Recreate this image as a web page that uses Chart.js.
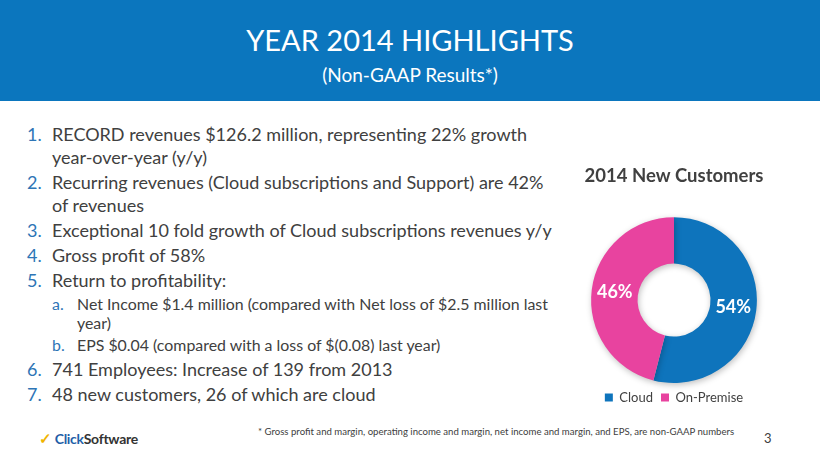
<!DOCTYPE html>
<html>
<head>
<meta charset="utf-8">
<script src="https://cdn.jsdelivr.net/npm/chart.js@4.4.1/dist/chart.umd.min.js"></script>
<style>
  html, body { margin: 0; padding: 0; background: #fff; }
  #slide { position: relative; width: 820px; height: 461px; overflow: hidden; font-family: Lato, "Open Sans", sans-serif; color: #404040; }
  #header { position: absolute; left: 0; top: 0; width: 820px; height: 101px; background: #0b76be; color: #fff; text-align: center; }
  #header h1 { margin: 0; position: absolute; top: 22px; width: 100%; font-weight: normal; font-size: 29px; font-family: "Liberation Sans Narrow", Lato, sans-serif; }
  #header h2 { margin: 0; position: absolute; top: 63px; width: 100%; font-weight: normal; font-size: 19px; font-family: "Liberation Sans Narrow", Lato, sans-serif; }
  ol { position: absolute; left: 0; top: 123px; margin: 0; padding: 0; list-style: none; font-size: 18px; line-height: 23px; width: 570px; white-space: nowrap; }
  ol li { position: relative; padding-left: 52px; margin-bottom: 2px; }
  ol li .n { position: absolute; left: 27px; color: #2e75b6; }
  ol li.sub { padding-left: 77px; font-size: 15.9px; line-height: 19px; margin-bottom: 3px; }
  ol li.sub.last { margin-bottom: 4px; }
  ol li.sub .n { left: 52px; }
  #chartBox { position: absolute; left: 564px; top: 158px; width: 220px; height: 256px; }
  #foot { position: absolute; left: 258px; top: 426px; font-size: 9.6px; color: #404040; white-space: nowrap; }
  #page { position: absolute; left: 764px; top: 430px; font-size: 13px; color: #404040; }
  #logo { position: absolute; left: 39px; top: 429px; font-size: 14px; font-weight: bold; letter-spacing: -0.3px; }
  #logo .chk { color: #f0b400; font-size: 15px; margin-right: 3px; }
  #logo .c { color: #1f5fa8; }
  #logo .s { color: #333; }
</style>
</head>
<body>
<div id="slide">
  <div id="header">
    <h1>YEAR 2014 HIGHLIGHTS</h1>
    <h2>(Non-GAAP Results*)</h2>
  </div>
  <ol>
    <li><span class="n">1.</span>RECORD revenues $126.2 million, representing 22% growth<br>year-over-year (y/y)</li>
    <li><span class="n">2.</span>Recurring revenues (Cloud subscriptions and Support) are 42%<br>of revenues</li>
    <li><span class="n">3.</span>Exceptional 10 fold growth of Cloud subscriptions revenues y/y</li>
    <li><span class="n">4.</span>Gross profit of 58%</li>
    <li><span class="n">5.</span>Return to profitability:</li>
    <li class="sub"><span class="n">a.</span>Net Income $1.4 million (compared with Net loss of $2.5 million last<br>year)</li>
    <li class="sub last"><span class="n">b.</span>EPS $0.04 (compared with a loss of $(0.08) last year)</li>
    <li><span class="n">6.</span>741 Employees: Increase of 139 from 2013</li>
    <li><span class="n">7.</span>48 new customers, 26 of which are cloud</li>
  </ol>
  <div id="chartBox"><canvas id="donut"></canvas></div>
  <div id="logo"><span class="chk">&#10003;</span><span class="c">Click</span><span class="s">Software</span></div>
  <div id="foot">* Gross profit and margin, operating income and margin, net income and margin, and EPS, are non-GAAP numbers</div>
  <div id="page">3</div>
</div>
<script>
const categories = ['Cloud', 'On-Premise'];
const shares = [54, 46];
const sliceColors = ['#0e74bc', '#e8439f'];

// percentage labels drawn in the middle of each slice
const sliceLabels = {
    id: 'sliceLabels',
    beforeDatasetsDraw(chart) {
        const ctx = chart.ctx;
        ctx.save();
        ctx.shadowColor = 'rgba(0,0,0,0.25)';
        ctx.shadowBlur = 6;
        ctx.shadowOffsetX = 1;
        ctx.shadowOffsetY = 2;
    },
    afterDatasetsDraw(chart) {
        const ctx = chart.ctx;
        ctx.restore();
        ctx.save();
        ctx.fillStyle = '#fff';
        ctx.font = 'bold 18px Lato, sans-serif';
        ctx.textAlign = 'center';
        ctx.textBaseline = 'middle';
        chart.getDatasetMeta(0).data.forEach((arc, i) => {
            const p = arc.tooltipPosition();
            ctx.fillText(shares[i] + '%', p.x, p.y);
        });
        ctx.restore();
    }
};

new Chart(document.getElementById('donut'), {
    type: 'doughnut',
    data: {
        labels: categories,
        datasets: [{ data: shares, backgroundColor: sliceColors, borderWidth: 0 }]
    },
    options: {
        responsive: true,
        maintainAspectRatio: false,
        animation: false,
        cutout: '44%',
        layout: { padding: 0 },
        plugins: {
            tooltip: { enabled: false },
            title: {
                display: true,
                text: '2014 New Customers',
                color: '#404040',
                font: { family: 'Lato', size: 18.5, weight: 'bold' },
                padding: { top: 7, bottom: 30 }
            },
            legend: {
                position: 'bottom',
                labels: {
                    color: '#404040',
                    font: { family: 'Lato', size: 13 },
                    boxWidth: 8,
                    boxHeight: 8,
                    padding: 8
                }
            }
        }
    },
    plugins: [sliceLabels]
});
</script>
</body>
</html>
